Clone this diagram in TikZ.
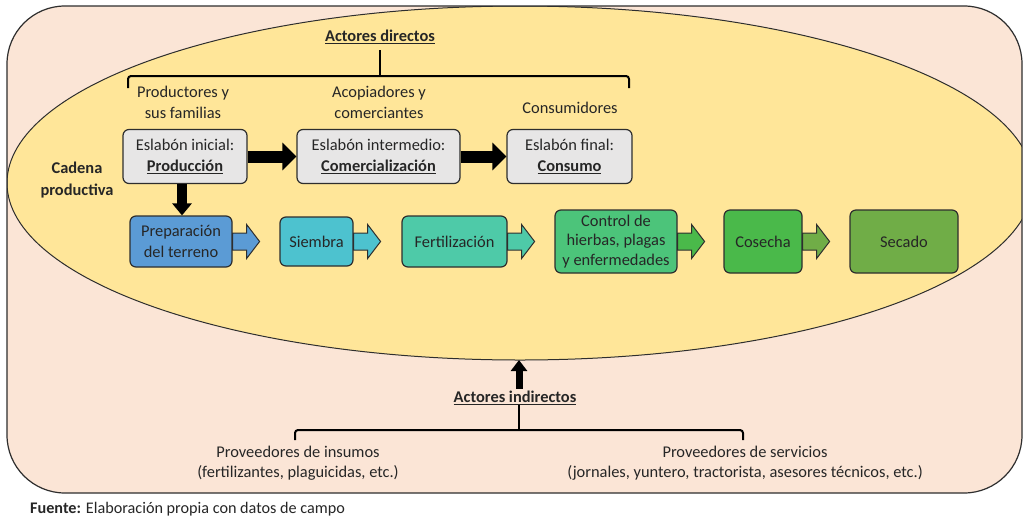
\documentclass[tikz,border=0pt]{standalone}
\usepackage{fontspec}
\setmainfont{Carlito}
\usetikzlibrary{arrows.meta,calc}
\definecolor{peach}{HTML}{FBE5D6}
\definecolor{yel}{HTML}{FFE699}
\definecolor{lgray}{HTML}{E7E6E6}
\definecolor{dline}{HTML}{2E2E2E}
\definecolor{txt}{HTML}{262626}
\definecolor{cprep}{HTML}{5B9BD5}
\definecolor{csiem}{HTML}{4DC2CF}
\definecolor{cfert}{HTML}{4ECAA8}
\definecolor{cctrl}{HTML}{4CC47A}
\definecolor{ccos}{HTML}{4AB94A}
\definecolor{csec}{HTML}{70AD47}
\begin{document}
\begin{tikzpicture}[x=1pt,y=-1pt,
  every node/.style={text=txt},
  font=\fontsize{16.4}{20.5}\selectfont,
  gbox/.style={draw=dline, fill=lgray, rounded corners=6pt, line width=1.2pt, align=center, inner sep=0pt, minimum height=54pt},
  pbox/.style={draw=dline, rounded corners=6pt, line width=1.2pt, align=center, inner sep=0pt},
  lbl/.style={align=center, inner sep=0pt},
  bkt/.style={line width=2pt, draw=black},
  bigarrow/.style={line width=12pt, -{Triangle[width=27pt,length=14pt]}},
  barrow/.pic={\draw[pic actions, line width=1pt, draw=dline] (0,-8.5) -- (14,-8.5) -- (14,-17) -- (27,0) -- (14,17) -- (14,8.5) -- (0,8.5) -- cycle;}
]
\useasboundingbox (0,0) rectangle (1024,520);
\fill[white] (0,0) rectangle (1024,520);
\begin{scope}
  \clip[rounded corners=58pt] (7,6) rectangle (1022,493);
  \fill[peach] (0,0) rectangle (1024,520);
  \draw[fill=yel, line width=1pt, draw=dline] (520,183) ellipse [x radius=513, y radius=177];
\end{scope}
\draw[rounded corners=58pt, line width=1.2pt, draw=dline] (7,6) rectangle (1022,493);
\coordinate (ebot) at (519,360);

% direct actors
\node[lbl, font=\fontsize{16.4}{20.5}\selectfont\bfseries] (ad) at (380,37) {\underline{Actores directos}};
\draw[bkt] (ad.south |- 0,50) -- (ad.south |- 0,76);
\draw[bkt, rounded corners=3pt] (128,88) -- (128,76) -- (629,76) -- (629,88);

\node[lbl] (l1) at (183,102.5) {Productores y\\sus familias};
\node[lbl] (l2) at (379,102.5) {Acopiadores y\\comerciantes};
\node[lbl] (l3) at (570,108) {Consumidores};

\node[gbox, minimum width=124pt] (b1) at (185,156.5) {Eslabón inicial:\\\textbf{\underline{Producción}}};
\node[gbox, minimum width=163pt] (b2) at (378.5,156.5) {Eslabón intermedio:\\\textbf{\underline{Comercialización}}};
\node[gbox, minimum width=125pt] (b3) at (569.5,156.5) {Eslabón final:\\\textbf{\underline{Consumo}}};

\draw[bigarrow] (b1.east) -- (b2.west);
\draw[bigarrow] (b2.east) -- (b3.west);

\node[lbl, font=\fontsize{16.4}{21.5}\selectfont\bfseries] (cad) at (77,180) {Cadena\\productiva};

% process
\node[pbox, fill=cprep, minimum width=102pt, minimum height=51pt] (prep) at (181,241.5) {Preparación\\del terreno};
\node[pbox, fill=csiem, minimum width=73pt, minimum height=49pt] (siem) at (316.5,241.5) {Siembra};
\node[pbox, fill=cfert, minimum width=105pt, minimum height=51pt] (fert) at (454.5,241.5) {Fertilización};
\node[pbox, fill=cctrl, minimum width=122pt, minimum height=63pt, font=\fontsize{16.4}{19.5}\selectfont] (ctrl) at (616,241.5) {Control de\\hierbas, plagas\\y enfermedades};
\node[pbox, fill=ccos, minimum width=78pt, minimum height=63pt] (cos) at (763,241.5) {Cosecha};
\node[pbox, fill=csec, minimum width=108pt, minimum height=63pt] (sec) at (904,241.5) {Secado};

\coordinate (dtop) at ($(b1.south -| prep.north)+(1,0)$);
\draw[line width=10pt, -{Triangle[width=19pt,length=12pt]}] (dtop) -- (dtop |- prep.north);

\pic[fill=cprep] at (prep.east) {barrow};
\pic[fill=csiem] at (siem.east) {barrow};
\pic[fill=cfert] at (fert.east) {barrow};
\pic[fill=ccos] at (ctrl.east) {barrow};
\pic[fill=csec] at (cos.east) {barrow};

% indirect actors
\node[lbl, font=\fontsize{16.4}{20.5}\selectfont\bfseries] (ai) at (515,398) {\underline{Actores indirectos}};
\coordinate (abot) at ($(ai.north -| ebot)+(0,-2)$);
\draw[line width=7pt, -{Triangle[width=16pt,length=11pt]}] (abot) -- (ebot);
\draw[bkt] (ai.south -| ebot) -- (ebot |- 0,430);
\draw[bkt, rounded corners=3pt] (295,440) -- (295,430) -- (743,430) -- (743,440);

\node[lbl] (p1) at (298,463) {Proveedores de insumos\\(fertilizantes, plaguicidas, etc.)};
\node[lbl] (p2) at (745,463) {Proveedores de servicios\\(jornales, yuntero, tractorista, asesores técnicos, etc.)};

\node[lbl, anchor=west, font=\fontsize{16.2}{18}\selectfont] (src) at (30,509) {\textbf{Fuente:} Elaboración propia con datos de campo};
\end{tikzpicture}
\end{document}
